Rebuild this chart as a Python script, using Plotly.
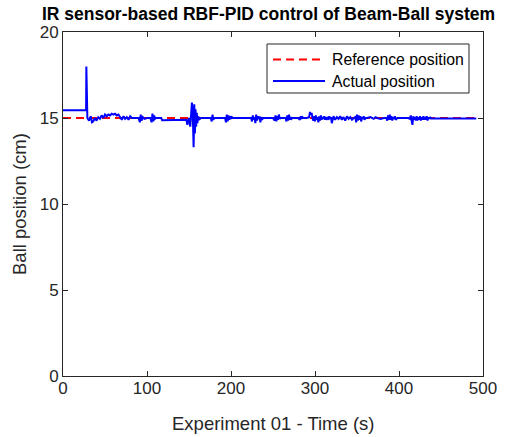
import plotly.graph_objects as go

# Reference position (cm)
ref_time = [0, 492]
ref_pos = [15.0, 15.0]

# Actual position (cm)
act_time = [
    0, 27.5, 27.8, 28.3, 29, 31, 33, 34.5, 36, 38,
    40, 42, 44, 46, 48, 50, 52, 54, 56, 58,
    60, 62, 64, 66, 68, 70, 72, 74, 76, 78,
    80, 82, 86, 90, 91.5, 92.5, 93.5, 95, 97, 100,
    104, 105.5, 106.5, 107.5, 108.5, 109.5, 111, 114, 117, 118,
    140, 145, 147, 148, 149, 150, 151.5, 152.5, 153.5, 154.5,
    155.5, 156.3, 157, 157.8, 158.5, 159.3, 160, 161, 162, 164,
    168, 172, 176, 177, 178, 179, 180, 184, 190, 193,
    194, 195, 196, 197, 198, 199, 200, 201, 202, 210,
    218, 224, 225, 226, 227, 228, 229, 230, 231, 232,
    233, 234, 235, 236, 237, 238, 244, 250, 252, 253,
    254, 255, 256, 257, 258, 259, 262, 265, 266, 267,
    268, 269, 270, 271, 272, 273, 276, 280, 282, 283,
    284, 285, 286, 290, 293, 294, 295, 296, 297, 298,
    299, 300, 301, 302, 303, 304, 305, 306, 307, 308,
    309, 310, 311, 312, 313, 314, 315, 316, 317, 318,
    319, 320, 322, 324, 326, 328, 330, 332, 334, 336,
    338, 340, 342, 344, 346, 348, 349, 350, 351, 352,
    353, 354, 355, 356, 357, 358, 359, 360, 362, 366,
    370, 372, 374, 378, 382, 385, 386, 387, 388, 389,
    390, 391, 392, 393, 394, 395, 396, 398, 400, 404,
    408, 411, 413, 414, 415, 416, 417, 418, 419, 420,
    421, 422, 423, 424, 425, 426, 427, 428, 429, 430,
    431, 432, 433, 434, 435, 436, 437, 438, 440, 470, 492,
]
act_pos = [
    15.45, 15.45, 18.0, 15.2, 15.0, 14.85, 15.1, 14.75, 14.8, 15.0,
    14.85, 15.05, 14.95, 15.15, 15.0, 15.2, 15.1, 15.2, 15.15, 15.25,
    15.2, 15.25, 15.15, 15.2, 15.05, 14.9, 15.1, 14.95, 15.05, 14.9,
    15.1, 15.0, 15.0, 15.0, 14.75, 15.2, 14.85, 15.05, 14.95, 15.0,
    15.0, 14.75, 15.25, 14.8, 15.15, 14.95, 15.0, 15.0, 15.0, 14.87,
    14.87, 14.87, 14.9, 14.6, 14.95, 15.0, 14.5, 15.6, 15.9, 15.2,
    13.3, 15.8, 14.1, 15.5, 14.5, 15.3, 14.7, 15.1, 14.9, 15.0,
    15.0, 15.0, 15.0, 14.8, 15.2, 14.9, 15.0, 15.0, 15.0, 15.0,
    14.75, 15.2, 14.8, 15.15, 14.9, 15.1, 14.95, 15.05, 15.0, 15.0,
    15.0, 15.0, 14.8, 15.15, 14.9, 15.05, 14.7, 15.2, 14.85, 15.1,
    14.95, 15.1, 14.75, 15.05, 14.9, 15.0, 15.0, 15.0, 14.85, 15.15,
    14.8, 15.1, 14.9, 15.2, 14.95, 15.0, 15.0, 15.0, 14.8, 15.15,
    14.85, 15.2, 14.9, 15.05, 14.95, 15.0, 15.0, 15.0, 14.9, 15.1,
    14.95, 15.05, 15.0, 15.0, 15.05, 15.35, 15.2, 15.3, 15.0, 14.85,
    15.1, 14.8, 15.15, 14.9, 15.05, 14.75, 15.1, 14.85, 15.15, 14.9,
    15.05, 14.95, 15.1, 14.9, 15.05, 14.95, 15.0, 14.9, 15.1, 14.95,
    15.05, 14.7, 15.1, 14.9, 15.05, 14.95, 15.1, 14.9, 15.05, 14.85,
    15.1, 14.95, 15.05, 14.9, 15.0, 15.05, 14.75, 15.2, 14.85, 15.15,
    14.9, 15.1, 14.8, 15.05, 14.95, 15.1, 14.9, 15.0, 15.0, 15.05,
    14.95, 15.05, 15.0, 14.95, 15.0, 15.0, 14.85, 15.15, 14.9, 15.2,
    14.9, 15.1, 14.85, 15.05, 14.95, 15.1, 14.9, 15.0, 15.0, 15.0,
    15.0, 15.0, 14.95, 15.15, 14.85, 14.6, 15.1, 14.9, 15.05, 14.85,
    15.1, 14.85, 15.05, 14.9, 15.1, 14.85, 15.05, 14.9, 15.1, 14.9,
    15.05, 14.9, 15.1, 14.85, 15.05, 14.95, 15.05, 14.97, 14.97, 14.97, 14.97,
]

series_names = ["Reference position", "Actual position"]
series_colors = ["#FF0000", "#0000FF"]
series_dash = ["8px,5px", "solid"]

x_ticks = [0, 100, 200, 300, 400, 500]
y_ticks = [0, 5, 10, 15, 20]

FONT = "Liberation Sans, Arial, Helvetica, sans-serif"
AX = "#262626"

W, H = 505, 437
ML, MR, MT, MB = 63, 22, 32, 61
PW, PH = W - ML - MR, H - MT - MB


def px(x):
    return (x - ML) / PW


def py(y):
    return (H - MB - y) / PH


fig = go.Figure()
fig.add_trace(go.Scatter(
    x=ref_time, y=ref_pos, mode="lines", name=series_names[0],
    line=dict(color=series_colors[0], width=2, dash=series_dash[0]),
    showlegend=False,
))
fig.add_trace(go.Scatter(
    x=act_time, y=act_pos, mode="lines", name=series_names[1],
    line=dict(color=series_colors[1], width=2, dash=series_dash[1]),
    showlegend=False,
))

axis_common = dict(
    showline=True, linecolor=AX, linewidth=1, mirror="ticks",
    ticks="inside", ticklen=5, tickcolor=AX, tickwidth=1,
    showgrid=False, zeroline=False, automargin=False,
    tickfont=dict(family=FONT, size=17, color=AX),
)

# Legend drawn as a box with line samples and labels (MATLAB style)
shapes = [dict(
    type="rect", xref="paper", yref="paper",
    x0=px(267), x1=px(469), y0=py(93), y1=py(44),
    line=dict(color=AX, width=1), fillcolor="white", layer="above",
)]
annotations = []
row_y = [59.5, 81]
for name, col, dash, ry in zip(series_names, series_colors, series_dash, row_y):
    shapes.append(dict(
        type="line", xref="paper", yref="paper",
        x0=px(273), x1=px(325), y0=py(ry), y1=py(ry),
        line=dict(color=col, width=2, dash=dash), layer="above",
    ))
    annotations.append(dict(
        text=name, xref="paper", yref="paper", x=px(330), y=py(ry),
        xanchor="left", yanchor="middle", showarrow=False,
        font=dict(family=FONT, size=15.8, color="black"),
    ))

annotations.append(dict(
    text="Ball position (cm)", xref="paper", yref="paper",
    x=px(19), y=0.5, xanchor="center", yanchor="middle",
    textangle=-90, showarrow=False,
    font=dict(family=FONT, size=18.5, color=AX),
))
annotations.append(dict(
    text="Experiment 01 - Time (s)", xref="paper", yref="paper",
    x=0.5, y=py(423), xanchor="center", yanchor="middle",
    showarrow=False,
    font=dict(family=FONT, size=18.5, color=AX),
))

fig.update_layout(
    width=W, height=H,
    margin=dict(l=ML, r=MR, t=MT, b=MB, autoexpand=False),
    paper_bgcolor="white", plot_bgcolor="white",
    font=dict(family=FONT, color=AX),
    title=dict(
        text="<b>IR sensor-based RBF-PID control of Beam-Ball system</b>",
        font=dict(family=FONT, size=17.5, color="black"),
        x=268.5 / W, xref="container", xanchor="center",
        y=1 - 8 / H, yref="container", yanchor="top",
        automargin=False,
    ),
    xaxis=dict(range=[0, 500], tickvals=x_ticks, ticklabelstandoff=-3,
               **axis_common),
    yaxis=dict(range=[0, 20], tickvals=y_ticks, **axis_common),
    shapes=shapes,
    annotations=annotations,
    showlegend=False,
)

fig.write_html(
    "out.html",
    config={"displayModeBar": False},
    post_script="document.body.style.margin='0';document.body.style.overflow='hidden';",
)
